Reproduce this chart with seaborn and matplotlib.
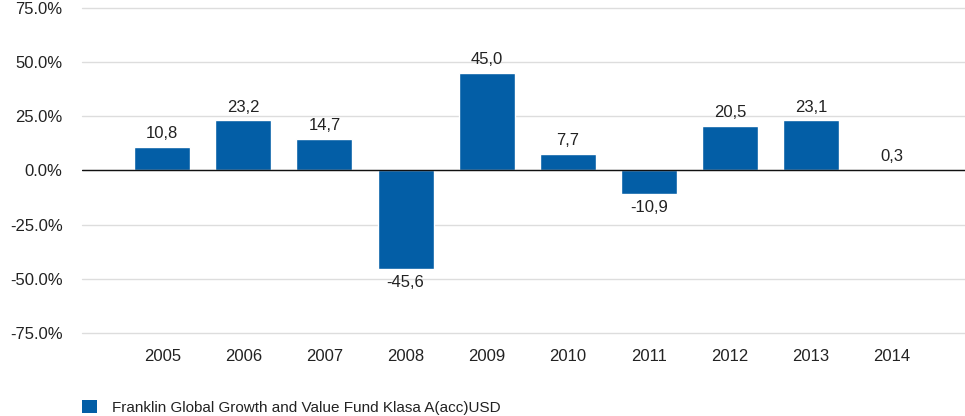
import pandas as pd
import matplotlib.pyplot as plt
import matplotlib.ticker as mticker
from matplotlib.patches import Patch
import seaborn as sns

# ==========================
# Data
# ==========================
years = ["2005", "2006", "2007", "2008", "2009", "2010", "2011", "2012", "2013", "2014"]
returns = [10.8, 23.2, 14.7, -45.6, 45.0, 7.7, -10.9, 20.5, 23.1, 0.3]
series_name = "Franklin Global Growth and Value Fund Klasa A(acc)USD"
bar_color = "#035ea6"

df = pd.DataFrame({"year": years, "value": returns})

# ==========================
# Style
# ==========================
sns.set_style("white")
plt.rcParams["font.family"] = ["Liberation Sans Narrow", "Liberation Sans", "DejaVu Sans"]

fig = plt.figure(figsize=(9.65, 4.16), dpi=100)
ax = fig.add_axes([0.085, 0.2, 0.915, 0.781])

sns.barplot(data=df, x="year", y="value", color=bar_color, width=0.69,
            saturation=1, ax=ax, zorder=3)

# value labels
for i, v in enumerate(returns):
    label = f"{v:.1f}".replace(".", ",")
    if v >= 0:
        ax.annotate(label, (i, v), xytext=(0, 4), textcoords="offset points",
                    ha="center", va="bottom", fontsize=12, color="#222222")
    else:
        ax.annotate(label, (i, v), xytext=(0, -4), textcoords="offset points",
                    ha="center", va="top", fontsize=12, color="#222222")

ax.set_ylim(-75, 75)
ax.set_xlim(-0.99, 9.9)
ax.set_yticks([-75, -50, -25, 0, 25, 50, 75])
ax.yaxis.set_major_formatter(mticker.FuncFormatter(lambda v, p: f"{v:.1f}%"))
ax.grid(axis="y", color="#dddddd", linewidth=1, zorder=0)
for gl in ax.get_ygridlines():
    gl.set_clip_on(False)
ax.axhline(0, color="#111111", linewidth=1, zorder=4)

for s in ax.spines.values():
    s.set_visible(False)

ax.tick_params(axis="both", length=0, labelsize=12, colors="#222222")
ax.tick_params(axis="y", pad=14)
ax.tick_params(axis="x", pad=12)
ax.set_xlabel("")
ax.set_ylabel("")

handle = Patch(facecolor=bar_color, edgecolor="none")
fig.legend([handle], [series_name], loc="lower left", bbox_to_anchor=(0.071, -0.03),
           frameon=False, fontsize=11, handlelength=0.95, handleheight=0.95,
           handletextpad=1.0, labelcolor="#222222")

fig.savefig("out.png", dpi=100)
